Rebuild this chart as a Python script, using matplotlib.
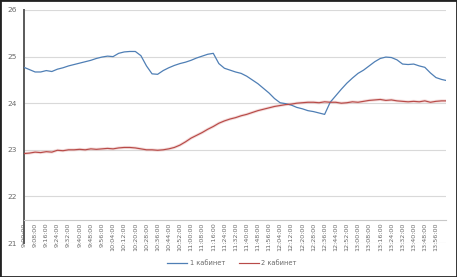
import matplotlib
matplotlib.use("Agg")
import matplotlib.pyplot as plt
from matplotlib.patches import Rectangle

plt.rcParams['font.family'] = ['DejaVu Sans']

# minutes after 9:00:00
minutes = [0, 4, 8, 12, 16, 20, 24, 28, 32, 36, 40, 44, 48, 52, 56, 60, 64, 68, 72, 76,
           80, 84, 88, 92, 96, 100, 104, 108, 112, 116, 120, 124, 128, 132, 136, 140,
           144, 148, 152, 156, 160, 164, 168, 172, 176, 180, 184, 188, 192, 196, 200,
           204, 208, 212, 216, 220, 224, 228, 232, 236, 240, 244, 248, 252, 256, 260,
           264, 268, 272, 276, 280, 284, 288, 292, 296, 300, 303]

cab1 = [24.77, 24.72, 24.67, 24.67, 24.70, 24.68, 24.73, 24.76, 24.80, 24.83, 24.86,
        24.89, 24.92, 24.96, 24.99, 25.01, 25.00, 25.07, 25.10, 25.11, 25.11, 25.02,
        24.80, 24.63, 24.62, 24.70, 24.76, 24.81, 24.85, 24.88, 24.92, 24.97, 25.01,
        25.05, 25.07, 24.85, 24.75, 24.71, 24.67, 24.64, 24.58, 24.50, 24.42, 24.32,
        24.22, 24.10, 24.01, 23.99, 23.96, 23.91, 23.88, 23.84, 23.82, 23.79, 23.76,
        24.02, 24.16, 24.30, 24.43, 24.54, 24.64, 24.71, 24.80, 24.89, 24.96, 24.99,
        24.98, 24.93, 24.84, 24.83, 24.84, 24.80, 24.77, 24.65, 24.55, 24.51, 24.49]

cab2 = [22.92, 22.93, 22.95, 22.94, 22.96, 22.95, 22.99, 22.98, 23.00, 23.00, 23.01,
        23.00, 23.02, 23.01, 23.02, 23.03, 23.02, 23.04, 23.05, 23.05, 23.04, 23.02,
        23.00, 23.00, 22.99, 23.00, 23.02, 23.05, 23.10, 23.17, 23.25, 23.31, 23.37,
        23.44, 23.50, 23.57, 23.62, 23.66, 23.69, 23.73, 23.76, 23.80, 23.84, 23.87,
        23.90, 23.93, 23.95, 23.97, 23.98, 24.00, 24.01, 24.02, 24.02, 24.01, 24.03,
        24.02, 24.02, 24.00, 24.01, 24.03, 24.02, 24.04, 24.06, 24.07, 24.08, 24.06,
        24.07, 24.05, 24.04, 24.03, 24.04, 24.03, 24.05, 24.02, 24.04, 24.05, 24.05]

tick_minutes = list(range(0, 297, 8))
tick_labels = ["9:00:00", "9:08:00", "9:16:00", "9:24:00", "9:32:00", "9:40:00",
               "9:48:00", "9:56:00", "10:04:00", "10:12:00", "10:20:00", "10:28:00",
               "10:36:00", "10:44:00", "10:52:00", "11:00:00", "11:08:00", "11:16:00",
               "11:24:00", "11:32:00", "11:40:00", "11:48:00", "11:56:00", "12:04:00",
               "12:12:00", "12:20:00", "12:28:00", "12:36:00", "12:44:00", "12:52:00",
               "13:00:00", "13:08:00", "13:16:00", "13:24:00", "13:32:00", "13:40:00",
               "13:48:00", "13:56:00"]
y_ticks = [21, 22, 23, 24, 25, 26]
series_names = ["1 кабинет", "2 кабинет"]

fig = plt.figure(figsize=(4.57, 2.77), dpi=100)
ax = fig.add_axes([24/457, 1 - 243/277, (445.7 - 24)/457, (243 - 10)/277])

for s in ['top', 'right']:
    ax.spines[s].set_visible(False)
ax.spines['bottom'].set_position(('data', 21.5))
ax.spines['left'].set_color("#5A5A5A")
ax.spines['left'].set_linewidth(1.4)
ax.spines['bottom'].set_color("#C8C8C8")
ax.spines['bottom'].set_linewidth(0.8)

blue = "#4F7FB5"
red = "#B84B48"
ax.plot(minutes, cab2, color="#E9B9B8", lw=2.2, alpha=0.5, zorder=2)
l1, = ax.plot(minutes, cab1, color=blue, lw=0.9, zorder=3, label=series_names[0])
l2, = ax.plot(minutes, cab2, color=red, lw=0.85, zorder=3, label=series_names[1])

ax.set_xlim(0, 303)
ax.set_ylim(21, 26)
ax.set_yticks(y_ticks)
ax.set_yticklabels([str(v) for v in y_ticks])
ax.set_xticks(tick_minutes)
ax.set_xticklabels(tick_labels)

ax.grid(axis='y', color="#D9D9D9", lw=0.8, zorder=0)
ax.set_axisbelow(True)

ax.tick_params(axis='x', length=0, pad=2, labelsize=4.6, colors="#6A6A6A",
               labelrotation=90)
ax.tick_params(axis='y', length=0, pad=5, labelsize=5.4, colors="#6A6A6A")

fig.legend(handles=[l1, l2], labels=series_names, loc='center',
           bbox_to_anchor=(232/457, 1 - 263/277), ncol=2, frameon=False,
           fontsize=4.8, handlelength=3.0, handletextpad=0.4, columnspacing=2.0,
           labelcolor="#6A6A6A")

fig.patches.append(Rectangle((0, 0), 1, 1, transform=fig.transFigure, fill=False,
                             edgecolor="#222222", linewidth=2.0))

fig.savefig("out.png", dpi=100)
